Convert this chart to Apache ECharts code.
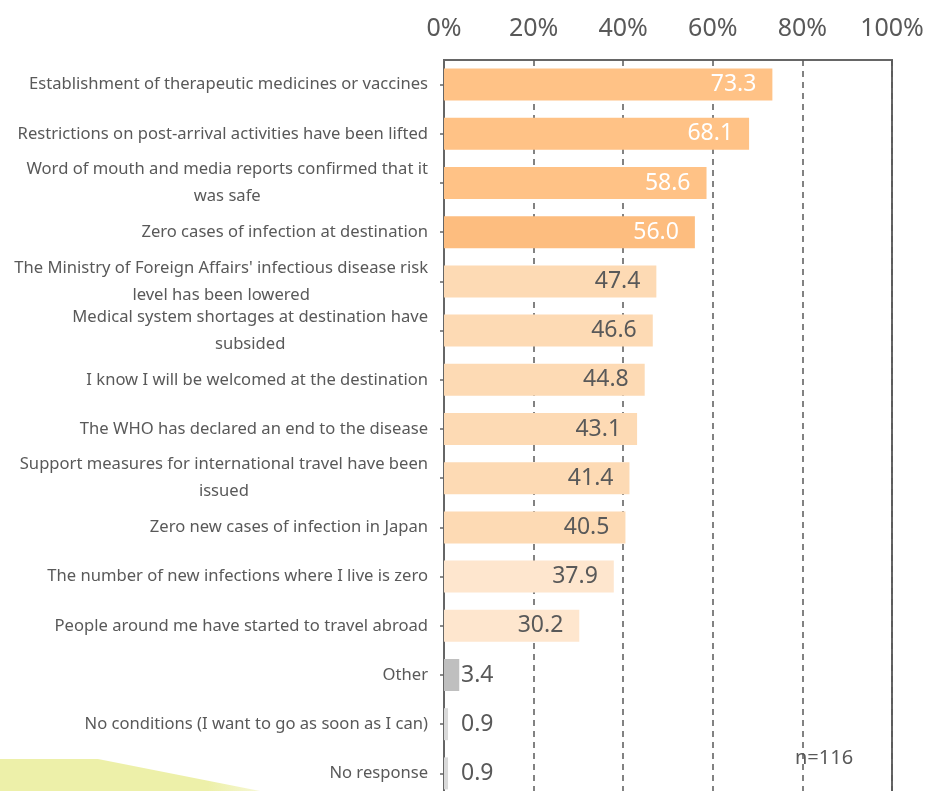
<!DOCTYPE html>
<html>
<head>
<meta charset="utf-8">
<script src="https://cdn.jsdelivr.net/npm/echarts@6/dist/echarts.min.js"></script>
<style>
html,body{margin:0;padding:0;background:#fff;}
#chart{width:928px;height:791px;}
</style>
</head>
<body>
<div id="chart"></div>
<script>
const categories = [
  "Establishment of therapeutic medicines or vaccines",
  "Restrictions on post-arrival activities have been lifted",
  "Word of mouth and media reports confirmed that it\nwas safe",
  "Zero cases of infection at destination",
  "The Ministry of Foreign Affairs' infectious disease risk\nlevel has been lowered",
  "Medical system shortages at destination have\nsubsided",
  "I know I will be welcomed at the destination",
  "The WHO has declared an end to the disease",
  "Support measures for international travel have been\nissued",
  "Zero new cases of infection in Japan",
  "The number of new infections where I live is zero",
  "People around me have started to travel abroad",
  "Other",
  "No conditions (I want to go as soon as I can)",
  "No response"
];
const values = [73.3, 68.1, 58.6, 56.0, 47.4, 46.6, 44.8, 43.1, 41.4, 40.5, 37.9, 30.2, 3.4, 0.9, 0.9];
const tickValues = [0, 20, 40, 60, 80, 100];
const sampleNote = "n=116";

const barColors = ["#FFC286","#FFC286","#FFC286","#FDBD7F","#FDDAB4","#FDDAB4","#FDDAB4","#FDDAB4","#FDDAB4","#FDDAB4","#FEE6CE","#FEE6CE","#BFBFBF","#D9D9D9","#D9D9D9"];
const labelColors = ["#fff","#fff","#fff","#fff"];

const chart = echarts.init(document.getElementById('chart'), null, {renderer: 'canvas'});

const seriesData = values.map((v, i) => {
  const small = v < 10;
  return {
    value: v,
    itemStyle: {color: barColors[i]},
    label: {
      show: true,
      position: small ? 'insideLeft' : 'insideRight',
      distance: small ? 17 : 16,
      color: labelColors[i] || '#595959',
      formatter: (p) => p.value.toFixed(1)
    }
  };
});

const catFont = {color: '#595959', fontSize: 16.6, fontFamily: 'Noto Sans', lineHeight: 27};

const option = {
  animation: false,
  backgroundColor: '#fff',
  textStyle: {fontFamily: 'Noto Sans'},
  grid: {
    left: 444, top: 60, width: 448, height: 738,
    outerBoundsMode: 'none', containLabel: false,
    show: true, borderColor: '#666', borderWidth: 2, backgroundColor: 'transparent'
  },
  xAxis: {
    type: 'value', position: 'top', min: tickValues[0], max: tickValues[tickValues.length - 1], interval: 20,
    axisLine: {show: false},
    axisTick: {show: false},
    axisLabel: {color: '#595959', fontSize: 25, fontFamily: 'Noto Sans', margin: 19, formatter: '{value}%'},
    splitLine: {show: true, lineStyle: {color: '#595959', width: 1.5, type: [6, 5]}}
  },
  yAxis: {
    type: 'category', inverse: true, data: categories,
    axisLine: {show: true, lineStyle: {color: '#666', width: 2}},
    axisTick: {show: true, alignWithLabel: true, length: 4, lineStyle: {color: '#666', width: 1.5}},
    axisLabel: Object.assign({}, catFont, {
      margin: 16,
      formatter: (val) => {
        const parts = val.split('\n');
        if (parts.length === 1) return val;
        return '{a|' + parts[0] + '}\n{b|' + parts[1] + '}';
      },
      rich: {
        a: Object.assign({}, catFont, {align: 'right'}),
        b: Object.assign({}, catFont, {align: 'center'})
      }
    })
  },
  series: [{
    type: 'bar', data: seriesData, barWidth: 32,
    label: {fontSize: 23, fontFamily: 'Noto Sans'}
  }],
  graphic: [
    {
      type: 'polygon', z: -1,
      shape: {points: [[0, 759], [98, 759], [260, 791], [0, 791]]},
      style: {
        fill: {type: 'linear', x: 0, y: 0, x2: 1, y2: 0, colorStops: [
          {offset: 0, color: '#EDF0A9'}, {offset: 0.8, color: '#EDF0A9'}, {offset: 1, color: '#F6F7D4'}
        ]}
      }
    },
    {
      type: 'text', left: 795, top: 748,
      style: {text: sampleNote, fill: '#595959', fontSize: 20, fontFamily: 'Noto Sans'}
    }
  ]
};
chart.setOption(option);
</script>
</body>
</html>
